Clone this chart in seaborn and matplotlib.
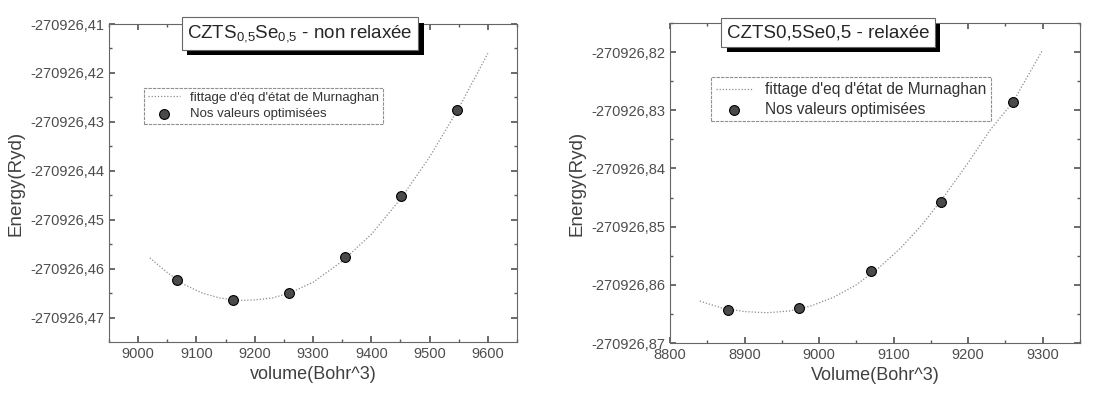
import numpy as np
import matplotlib
matplotlib.use("Agg")
import matplotlib.pyplot as plt
import matplotlib.patheffects as pe
from matplotlib.ticker import FuncFormatter, MultipleLocator
import seaborn as sns
import pandas as pd

# données (énergies en Ryd, volumes en Bohr^3)
vol_nr = [9067, 9163, 9259, 9355, 9451, 9547]
e_nr = [-270926.4623, -270926.4664, -270926.4649, -270926.4576, -270926.4452, -270926.4276]
fit_vol_nr = [9020, 9050, 9080, 9110, 9140, 9170, 9200, 9230, 9260, 9300, 9350, 9400, 9450, 9500, 9550, 9600]
fit_e_nr = [-270926.4578, -270926.4608, -270926.4633, -270926.4650, -270926.4660, -270926.4665, -270926.4664,
            -270926.4660, -270926.4650, -270926.4628, -270926.4585, -270926.4530, -270926.4458, -270926.4372,
            -270926.4272, -270926.4160]

vol_r = [8878, 8973, 9069, 9164, 9260]
e_r = [-270926.8643, -270926.8639, -270926.8577, -270926.8458, -270926.8286]
fit_vol_r = [8840, 8870, 8900, 8930, 8960, 8990, 9020, 9050, 9080, 9110, 9140, 9170, 9200, 9230, 9260, 9300]
fit_e_r = [-270926.8628, -270926.8640, -270926.8646, -270926.8648, -270926.8645, -270926.8636, -270926.8621,
           -270926.8600, -270926.8571, -270926.8536, -270926.8494, -270926.8444, -270926.8390, -270926.8333,
           -270926.8286, -270926.8196]

sns.set_theme(style="ticks")
plt.rcParams['font.family'] = ['Liberation Sans', 'DejaVu Sans']
plt.rcParams['mathtext.default'] = 'regular'

fig = plt.figure(figsize=(11.2, 4.04), dpi=100)
ax1 = fig.add_axes([109 / 1120, 62 / 404, 408 / 1120, 318 / 404])
ax2 = fig.add_axes([670 / 1120, 61 / 404, 410 / 1120, 320 / 404])

comma = FuncFormatter(lambda v, p: f"{v:.2f}".replace(".", ","))


def panel(ax, fv, fe, v, e, xlim, ylim, xlabel, title, tx, leg_xy, leg_fs, fit_label):
    sns.lineplot(x=fv, y=fe, ax=ax, color="0.55", linestyle=(0, (1, 1.5)), linewidth=0.9,
                 label=fit_label, sort=True)
    sns.scatterplot(x=v, y=e, ax=ax, s=50, color="#4a4a4a", edgecolor="black", linewidth=0.8,
                    label="Nos valeurs optimisées", zorder=3)
    ax.set_xlim(*xlim)
    ax.set_ylim(*ylim)
    ax.xaxis.set_major_locator(MultipleLocator(100))
    ax.xaxis.set_minor_locator(MultipleLocator(50))
    ax.yaxis.set_major_locator(MultipleLocator(0.01))
    ax.yaxis.set_minor_locator(MultipleLocator(0.005))
    ax.yaxis.set_major_formatter(comma)
    ax.tick_params(which="both", direction="in", top=True, right=True, colors="0.35",
                   labelcolor="0.3", labelsize=10.5)
    ax.tick_params(which="major", length=4)
    ax.tick_params(which="minor", length=2)
    for s in ax.spines.values():
        s.set_color("0.4")
        s.set_linewidth(0.8)
        s.set_linestyle((0, (4, 1)))
    ax.set_xlabel(xlabel, fontsize=13, color="0.25")
    ax.set_ylabel("Energy(Ryd)", fontsize=13.5, color="0.25")

    # boîte de titre avec ombre portée
    t = ax.text(tx, 0.97, title, transform=ax.transAxes, ha="center", va="center", fontsize=13.5,
                color="0.15", bbox=dict(boxstyle="square,pad=0.3", facecolor="white", edgecolor="0.4",
                                        linewidth=0.8), zorder=6, clip_on=False)
    t.get_bbox_patch().set_path_effects([
        pe.SimplePatchShadow(offset=(4, -4), shadow_rgbFace="black", alpha=1.0), pe.Normal()])

    leg = ax.legend(loc="upper left", bbox_to_anchor=leg_xy, fontsize=leg_fs, frameon=True,
                    fancybox=False, handlelength=2.4, borderpad=0.3, labelspacing=0.3,
                    handletextpad=0.8, borderaxespad=0)
    leg.get_frame().set_edgecolor("0.45")
    leg.get_frame().set_linewidth(0.8)
    leg.get_frame().set_linestyle((0, (3, 1)))
    leg.set_zorder(2)
    for lt in leg.get_texts():
        lt.set_color("0.2")


panel(ax1, fit_vol_nr, fit_e_nr, vol_nr, e_nr, (8950, 9650), (-270926.475, -270926.41),
      "volume(Bohr^3)", "CZTS$_{0{,}5}$Se$_{0{,}5}$ - non relaxée", 0.468, (0.086, 0.80), 9.5,
      "fittage d'éq d'état de Murnaghan")
panel(ax2, fit_vol_r, fit_e_r, vol_r, e_r, (8800, 9350), (-270926.87, -270926.815),
      "Volume(Bohr^3)", "CZTS0,5Se0,5 - relaxée", 0.385, (0.10, 0.83), 11.2,
      "fittage d'eq d'état de Murnaghan")

fig.savefig("out.png", dpi=100)
